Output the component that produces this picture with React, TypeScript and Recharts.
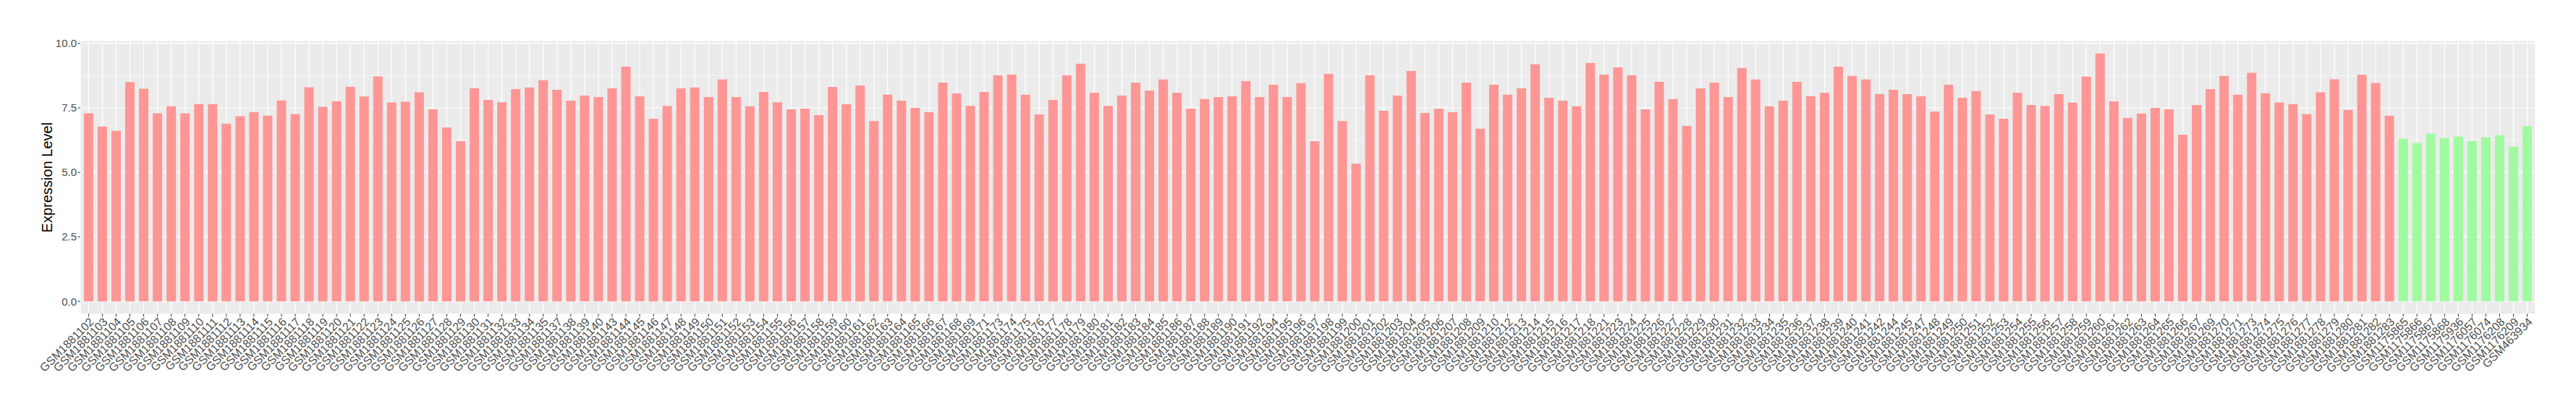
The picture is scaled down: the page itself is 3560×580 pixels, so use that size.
import React from 'react';
import { BarChart, Bar, XAxis, YAxis, CartesianGrid, Cell } from 'recharts';

const redIds: number[] = [
  1881102, 1881103, 1881104, 1881105, 1881106, 1881107, 1881108, 1881109, 1881110, 1881111,
  1881112, 1881113, 1881114, 1881115, 1881116, 1881117, 1881118, 1881119, 1881120, 1881121,
  1881122, 1881123, 1881124, 1881125, 1881126, 1881127, 1881128, 1881129, 1881130, 1881131,
  1881132, 1881133, 1881134, 1881135, 1881137, 1881138, 1881139, 1881140, 1881143, 1881144,
  1881145, 1881146, 1881147, 1881148, 1881149, 1881150, 1881151, 1881152, 1881153, 1881154,
  1881155, 1881156, 1881157, 1881158, 1881159, 1881160, 1881161, 1881162, 1881163, 1881164,
  1881165, 1881166, 1881167, 1881168, 1881169, 1881171, 1881173, 1881174, 1881175, 1881176,
  1881177, 1881178, 1881179, 1881180, 1881181, 1881182, 1881183, 1881184, 1881185, 1881186,
  1881187, 1881188, 1881189, 1881190, 1881191, 1881192, 1881194, 1881195, 1881196, 1881197,
  1881198, 1881199, 1881200, 1881201, 1881202, 1881203, 1881204, 1881205, 1881206, 1881207,
  1881208, 1881209, 1881210, 1881212, 1881213, 1881214, 1881215, 1881216, 1881217, 1881218,
  1881221, 1881223, 1881224, 1881225, 1881226, 1881227, 1881228, 1881229, 1881230, 1881231,
  1881232, 1881233, 1881234, 1881235, 1881236, 1881237, 1881238, 1881239, 1881240, 1881241,
  1881242, 1881244, 1881245, 1881247, 1881248, 1881249, 1881250, 1881251, 1881252, 1881253,
  1881254, 1881255, 1881256, 1881257, 1881258, 1881259, 1881260, 1881261, 1881262, 1881263,
  1881264, 1881265, 1881266, 1881267, 1881269, 1881270, 1881271, 1881273, 1881274, 1881275,
  1881276, 1881277, 1881278, 1881279, 1881280, 1881281, 1881282, 1881283,
];

const redValues: number[] = [
  7.29, 6.78, 6.61, 8.50, 8.24, 7.29, 7.56, 7.29, 7.65, 7.65,
  6.89, 7.18, 7.34, 7.20, 7.79, 7.26, 8.30, 7.54, 7.76, 8.32,
  7.94, 8.72, 7.71, 7.74, 8.10, 7.44, 6.74, 6.21, 8.26, 7.81,
  7.72, 8.23, 8.29, 8.57, 8.20, 7.78, 7.98, 7.92, 8.26, 9.10,
  7.95, 7.08, 7.58, 8.26, 8.29, 7.92, 8.60, 7.92, 7.56, 8.12,
  7.72, 7.44, 7.47, 7.22, 8.31, 7.64, 8.37, 6.99, 8.01, 7.78,
  7.50, 7.33, 8.48, 8.06, 7.58, 8.12, 8.76, 8.79, 8.01, 7.25,
  7.81, 8.76, 9.21, 8.09, 7.58, 7.98, 8.48, 8.17, 8.60, 8.09,
  7.47, 7.84, 7.92, 7.95, 8.54, 7.92, 8.40, 7.92, 8.46, 6.21,
  8.82, 6.99, 5.34, 8.76, 7.39, 7.98, 8.93, 7.30, 7.47, 7.33,
  8.48, 6.69, 8.40, 8.01, 8.26, 9.19, 7.89, 7.78, 7.56, 9.24,
  8.79, 9.07, 8.76, 7.44, 8.51, 7.84, 6.80, 8.26, 8.48, 7.92,
  9.04, 8.60, 7.56, 7.78, 8.51, 7.95, 8.09, 9.10, 8.74, 8.60,
  8.03, 8.20, 8.03, 7.95, 7.36, 8.40, 7.89, 8.15, 7.25, 7.08,
  8.09, 7.61, 7.58, 8.03, 7.70, 8.71, 9.61, 7.75, 7.11, 7.28,
  7.50, 7.44, 6.46, 7.61, 8.23, 8.74, 8.01, 8.86, 8.07, 7.71,
  7.65, 7.26, 8.10, 8.61, 7.42, 8.78, 8.47, 7.20,
];

const greenIds: number[] = [
  1175865, 1175866, 1175867, 1175868, 1175936, 1176057, 1176074, 1176208, 1176209, 463934,
];

const greenValues: number[] = [6.30, 6.13, 6.50, 6.33, 6.39, 6.22, 6.36, 6.44, 5.99, 6.80];

const majorTicks: number[] = [0, 2.5, 5, 7.5, 10];
const minorTicks: number[] = [1.25, 3.75, 6.25, 8.75];
const yDomain: [number, number] = [-0.48, 10.09];

const RED = '#FF9696';
const GREEN = '#A0FAA0';

type Row = { name: string; value: number; group: string };

const data: Row[] = [
  ...redIds.map((id, i) => ({ name: `GSM${id}`, value: redValues[i], group: 'red' })),
  ...greenIds.map((id, i) => ({ name: `GSM${id}`, value: greenValues[i], group: 'green' })),
];

const FONT = '"Liberation Sans", Arial, Helvetica, sans-serif';

const XTick = (props: any) => {
  const { x, y, payload } = props;
  return (
    <text
      x={x}
      y={y}
      transform={`rotate(-45 ${x} ${y})`}
      textAnchor="end"
      dy="0.72em"
      fontSize={16}
      fontFamily={FONT}
      fill="#4D4D4D"
    >
      {payload.value}
    </text>
  );
};

export default function App() {
  return (
    <div style={{ width: 3544, height: 564, background: '#FFFFFF' }}>
      <BarChart
        width={3544}
        height={564}
        data={data}
        margin={{ top: 48.7, right: 48, bottom: 0, left: 0 }}
      >
        <CartesianGrid
          vertical={false}
          horizontalValues={minorTicks}
          stroke="#FFFFFF"
          strokeWidth={0.6}
          fill="#EBEBEB"
          fillOpacity={1}
        />
        <CartesianGrid horizontalValues={majorTicks} stroke="#FFFFFF" strokeWidth={1.2} />
        <XAxis
          dataKey="name"
          interval={0}
          height={138.7}
          padding={{ left: 1.9, right: 1.9 }}
          axisLine={false}
          tickSize={4}
          tickMargin={0}
          tickLine={{ stroke: '#333333', strokeWidth: 1 }}
          tick={<XTick />}
        />
        <YAxis
          type="number"
          domain={yDomain}
          allowDataOverflow
          ticks={majorTicks}
          width={103}
          axisLine={false}
          tickSize={3.5}
          tickMargin={1.5}
          tickLine={{ stroke: '#333333', strokeWidth: 1 }}
          tickFormatter={(v: number) => v.toFixed(1)}
          tick={{ fontSize: 15, fill: '#4D4D4D', fontFamily: FONT }}
          label={{
            value: 'Expression Level',
            angle: -90,
            position: 'center',
            dx: 5.5,
            style: { fontSize: 20, fill: '#000000', fontFamily: FONT, textAnchor: 'middle' },
          }}
        />
        <Bar dataKey="value" barSize={13} isAnimationActive={false}>
          {data.map((d, i) => (
            <Cell key={i} fill={d.group === 'red' ? RED : GREEN} />
          ))}
        </Bar>
      </BarChart>
    </div>
  );
}
